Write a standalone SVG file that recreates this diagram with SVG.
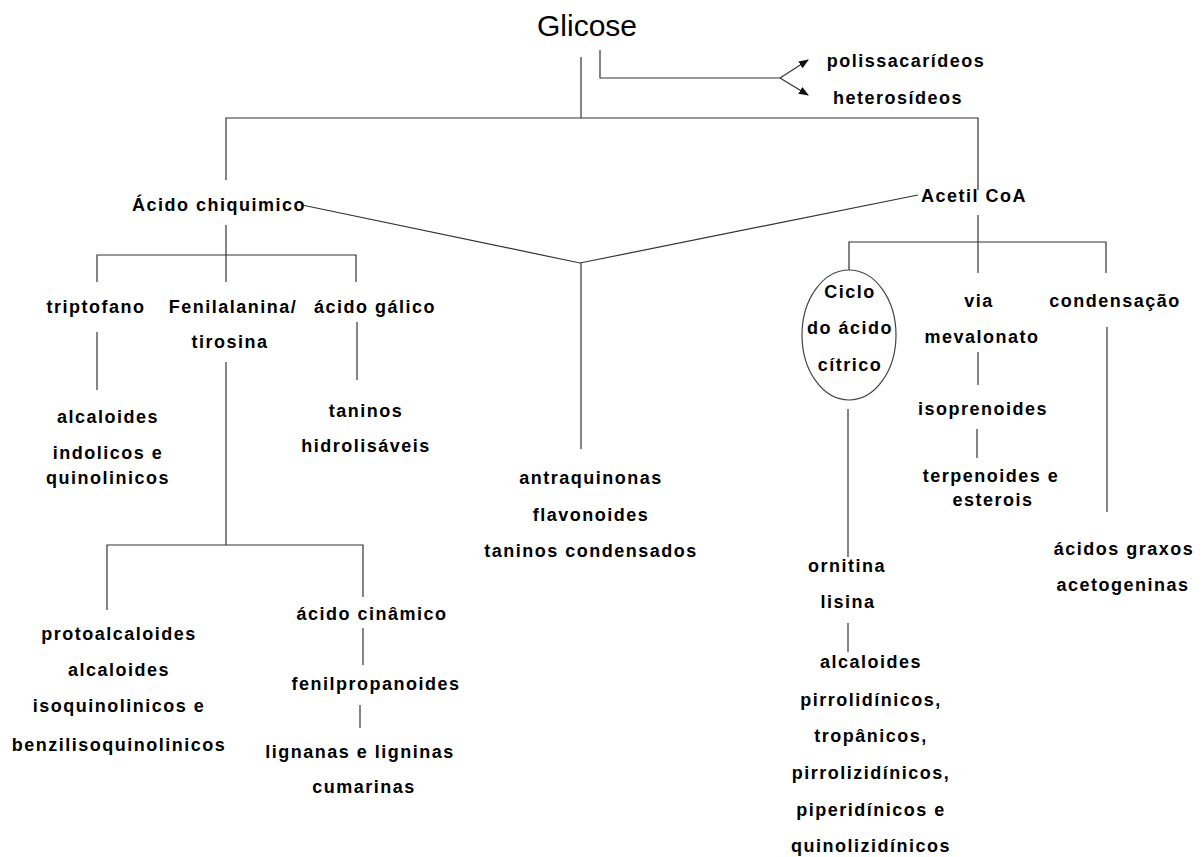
<svg xmlns="http://www.w3.org/2000/svg" width="1202" height="857" viewBox="0 0 1202 857">
<style>
  text { font-family: "Liberation Sans", Arial, sans-serif; fill: #000; text-anchor: middle; }
  .t { font-size: 18px; font-weight: bold; letter-spacing: 1.5px; }
  .big { font-size: 30px; }
  .c line, .c polyline { stroke: #333; stroke-width: 1.2; fill: none; }
  .ell { fill: none; stroke: #444; stroke-width: 1.2; }
</style>
<defs>
  <marker id="ah" viewBox="0 0 10 10" refX="9" refY="5" markerWidth="10" markerHeight="10" orient="auto" markerUnits="userSpaceOnUse">
    <path d="M0,1 L10,5 L0,9 z" fill="#111"/>
  </marker>
</defs>
<rect width="1202" height="857" fill="#fff"/>

<g id="connectors" class="c">
  <line x1="581" y1="57" x2="581" y2="118"/>
  <polyline points="600,50 600,78 780,78"/>
  <line x1="780" y1="78" x2="808" y2="60" marker-end="url(#ah)"/>
  <line x1="780" y1="78" x2="808" y2="95" marker-end="url(#ah)"/>
  <polyline points="226,180 226,118 978,118 978,190"/>
  <polyline points="302,205 580,263 918,195"/>
  <line x1="581" y1="263" x2="581" y2="449"/>
  <line x1="226" y1="225" x2="226" y2="282"/>
  <polyline points="97,282 97,255 356,255 356,282"/>
  <line x1="97" y1="332" x2="97" y2="390"/>
  <line x1="226" y1="362" x2="226" y2="545"/>
  <line x1="357" y1="322" x2="357" y2="380"/>
  <polyline points="107,610 107,545 363,545 363,597"/>
  <line x1="363" y1="628" x2="363" y2="665"/>
  <line x1="360" y1="705" x2="360" y2="728"/>
  <line x1="978" y1="215" x2="978" y2="273"/>
  <polyline points="849,270 849,242 1106,242 1106,273"/>
  <line x1="978" y1="352" x2="978" y2="385"/>
  <line x1="977" y1="429" x2="977" y2="458"/>
  <line x1="1107" y1="327" x2="1107" y2="512"/>
  <line x1="848" y1="409" x2="848" y2="557"/>
  <line x1="848" y1="623" x2="848" y2="652"/>
</g>

<g id="glicose"><text class="big" x="587" y="36">Glicose</text></g>
<g id="polissacarideos"><text class="t" x="906" y="67">polissacarídeos</text></g>
<g id="heterosideos"><text class="t" x="898" y="104">heterosídeos</text></g>

<g id="acido-chiquimico"><text class="t" x="219" y="211">Ácido chiquimico</text></g>
<g id="acetil-coa"><text class="t" x="974" y="202">Acetil CoA</text></g>

<g id="triptofano"><text class="t" x="96" y="313">triptofano</text></g>
<g id="fenilalanina"><text class="t" x="233" y="313">Fenilalanina/</text><text class="t" x="230" y="348">tirosina</text></g>
<g id="acido-galico"><text class="t" x="375" y="313">ácido gálico</text></g>

<g id="alcaloides-indolicos"><text class="t" x="108" y="423">alcaloides</text><text class="t" x="108" y="459">indolicos e</text><text class="t" x="108" y="484">quinolinicos</text></g>
<g id="taninos-hidrolisaveis"><text class="t" x="366" y="417">taninos</text><text class="t" x="366" y="452">hidrolisáveis</text></g>

<g id="antraquinonas"><text class="t" x="591" y="484">antraquinonas</text><text class="t" x="591" y="521">flavonoides</text><text class="t" x="591" y="557">taninos condensados</text></g>

<g id="protoalcaloides"><text class="t" x="119" y="640">protoalcaloides</text><text class="t" x="119" y="676">alcaloides</text><text class="t" x="119" y="712">isoquinolinicos e</text><text class="t" x="119" y="751">benzilisoquinolinicos</text></g>

<g id="acido-cinamico"><text class="t" x="372" y="620">ácido cinâmico</text></g>
<g id="fenilpropanoides"><text class="t" x="376" y="690">fenilpropanoides</text></g>
<g id="lignanas"><text class="t" x="360" y="758">lignanas e ligninas</text><text class="t" x="364" y="793">cumarinas</text></g>

<g id="ciclo"><ellipse class="ell" cx="849" cy="335" rx="47" ry="65"/><text class="t" x="850" y="298">Ciclo</text><text class="t" x="850" y="334">do ácido</text><text class="t" x="850" y="371">cítrico</text></g>
<g id="via-mevalonato"><text class="t" x="979" y="307">via</text><text class="t" x="982" y="343">mevalonato</text></g>
<g id="condensacao"><text class="t" x="1115" y="307">condensação</text></g>
<g id="isoprenoides"><text class="t" x="983" y="415">isoprenoides</text></g>
<g id="terpenoides"><text class="t" x="991" y="482">terpenoides e</text><text class="t" x="993" y="506">esterois</text></g>
<g id="acidos-graxos"><text class="t" x="1124" y="555">ácidos graxos</text><text class="t" x="1123" y="591">acetogeninas</text></g>
<g id="ornitina"><text class="t" x="847" y="572">ornitina</text><text class="t" x="848" y="608">lisina</text></g>
<g id="alcaloides-pirrolidinicos"><text class="t" x="871" y="668">alcaloides</text><text class="t" x="871" y="706">pirrolidínicos,</text><text class="t" x="871" y="742">tropânicos,</text><text class="t" x="871" y="779">pirrolizidínicos,</text><text class="t" x="871" y="816">piperidínicos e</text><text class="t" x="871" y="852">quinolizidínicos</text></g>
</svg>
